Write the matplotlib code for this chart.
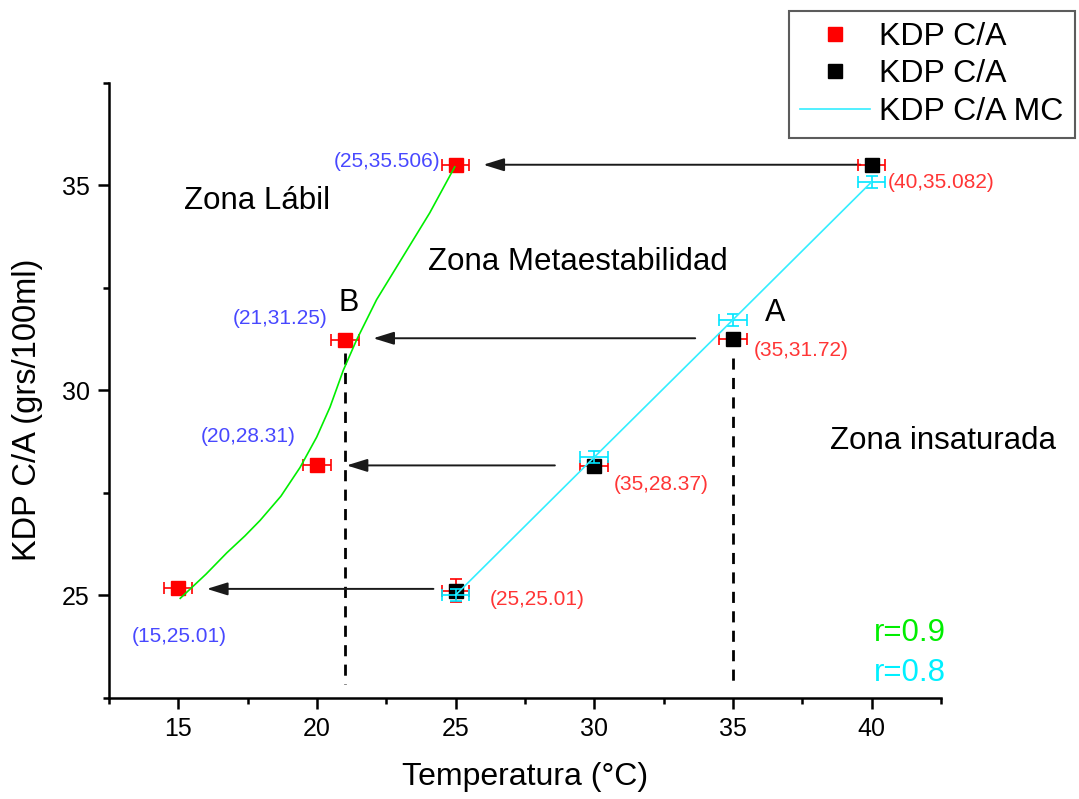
import matplotlib
matplotlib.use('Agg')
import matplotlib.pyplot as plt

plt.rcParams['font.family'] = ['Liberation Sans', 'DejaVu Sans']

# datos
temp_lab = [15, 20, 21, 25]
kdp_lab = [25.18, 28.18, 31.23, 35.49]
xerr_lab = [0.5, 0.5, 0.5, 0.5]

temp_sat = [25, 30, 35, 40]
kdp_sat = [25.12, 28.16, 31.25, 35.49]
xerr_sat = [0.5, 0.5, 0.5, 0.5]
yerr_sat = [0.27, 0.1, 0.05, 0.05]

temp_mc = [25, 30, 35, 40]
kdp_mc = [25.01, 28.37, 31.72, 35.08]
xerr_mc = [0.5, 0.5, 0.5, 0.5]
yerr_mc = [0.15, 0.15, 0.15, 0.15]

# curva verde (ajuste)
curva_x = [15.07, 16.0, 16.75, 17.4, 17.95, 18.7, 19.39, 19.99, 20.47, 20.95, 21.43, 22.15, 23.11, 24.07, 24.97]
curva_y = [24.93, 25.52, 26.04, 26.45, 26.83, 27.42, 28.12, 28.86, 29.59, 30.49, 31.23, 32.21, 33.27, 34.33, 35.45]

# flechas: (x cola, x punta, y)
flechas_y = [35.5, 31.27, 28.17, 25.16]
flechas_cola = [39.6, 33.64, 28.58, 24.2]
flechas_punta = [26.0, 22.03, 21.07, 16.03]

etiq_azul = ['(25,35.506)', '(21,31.25)', '(20,28.31)', '(15,25.01)']
etiq_rojo = ['(40,35.082)', '(35,31.72)', '(35,28.37)', '(25,25.01)']

fig = plt.figure(figsize=(10.79, 7.99), dpi=100)
ax = fig.add_axes([0.101, 0.1264, 0.771, 0.7701])

# lineas punteadas verticales
ax.plot([21, 21], [30.9, 22.85], color='black', lw=2, ls=(0, (4, 3)))
ax.plot([35, 35], [30.8, 22.85], color='black', lw=2, ls=(0, (4, 3)))

# flechas
for yy, x0, x1 in zip(flechas_y, flechas_cola, flechas_punta):
    ax.annotate('', xy=(x1, yy), xytext=(x0, yy),
                arrowprops=dict(arrowstyle='-|>,head_length=0.9,head_width=0.28',
                                color='#1a1a1a', lw=1.4, mutation_scale=14,
                                shrinkA=0, shrinkB=0))

# serie roja
ax.errorbar(temp_lab, kdp_lab, xerr=xerr_lab, fmt='none', ecolor='red',
            elinewidth=1.2, capsize=4, capthick=1.2, zorder=3)
h1, = ax.plot(temp_lab, kdp_lab, 's', color='red', ms=9.5, ls='none',
              label='KDP C/A', zorder=4)
ax.plot(curva_x, curva_y, color='#00ee00', lw=1.2, zorder=5)

# serie negra
ax.errorbar(temp_sat, kdp_sat, xerr=xerr_sat, yerr=yerr_sat, fmt='none',
            ecolor='red', elinewidth=1.2, capsize=4, capthick=1.2, zorder=3)
h2, = ax.plot(temp_sat, kdp_sat, 's', color='black', ms=9.5, ls='none',
              label='KDP C/A', zorder=4)

# serie cian
ax.errorbar(temp_mc, kdp_mc, xerr=xerr_mc, yerr=yerr_mc, fmt='none',
            ecolor='#00e5ff', elinewidth=1.2, capsize=4.3, capthick=1.2, zorder=5)
h3, = ax.plot(temp_mc, kdp_mc, color='#33eeff', lw=1.2, label='KDP C/A MC', zorder=5)

# etiquetas de puntos
azul = '#4848ff'
rojo = '#ff3535'
ax.text(24.44, 35.57, etiq_azul[0], color=azul, fontsize=15, ha='right', va='center')
ax.text(18.67, 31.76, etiq_azul[1], color=azul, fontsize=15, ha='center', va='center')
ax.text(17.53, 28.87, etiq_azul[2], color=azul, fontsize=15, ha='center', va='center')
ax.text(15.05, 24.01, etiq_azul[3], color=azul, fontsize=15, ha='center', va='center')
ax.text(40.6, 35.07, etiq_rojo[0], color=rojo, fontsize=15, ha='left', va='center')
ax.text(35.75, 30.98, etiq_rojo[1], color=rojo, fontsize=15, ha='left', va='center')
ax.text(30.71, 27.71, etiq_rojo[2], color=rojo, fontsize=15, ha='left', va='center')
ax.text(26.24, 24.9, etiq_rojo[3], color=rojo, fontsize=15, ha='left', va='center')

# zonas
ax.text(15.19, 34.62, 'Zona Lábil', fontsize=22.5, va='center')
ax.text(24.0, 33.14, 'Zona Metaestabilidad', fontsize=22.5, va='center')
ax.text(38.49, 28.77, 'Zona insaturada', fontsize=22.5, va='center')
ax.text(36.53, 31.89, 'A', fontsize=22, ha='center', va='center')
ax.text(21.16, 32.13, 'B', fontsize=22, ha='center', va='center')
ax.text(40.1, 24.08, 'r=0.9', fontsize=22.5, color='#00ee00', va='center')
ax.text(40.1, 23.1, 'r=0.8', fontsize=22.5, color='#00f0ff', va='center')

ax.set_xlim(12.5, 42.5)
ax.set_ylim(22.5, 37.5)
ax.set_xticks([15, 20, 25, 30, 35, 40])
ax.set_xticks([12.5, 17.5, 22.5, 27.5, 32.5, 37.5, 42.5], minor=True)
ax.set_yticks([25, 30, 35])
ax.set_yticks([22.5, 27.5, 32.5, 37.5], minor=True)
ax.tick_params(which='major', direction='out', length=8, width=1.8, labelsize=18, pad=6)
ax.tick_params(which='minor', direction='out', length=4.5, width=1.8)
for lado in ['top', 'right']:
    ax.spines[lado].set_visible(False)
for lado in ['left', 'bottom']:
    ax.spines[lado].set_linewidth(1.8)

ax.set_xlabel('Temperatura (°C)', fontsize=23, labelpad=15)
ax.set_ylabel('KDP C/A (grs/100ml)', fontsize=23.5)
ax.yaxis.set_label_coords(-0.079, 0.468)

leg = ax.legend(handles=[h1, h2, h3], loc='upper right',
                bbox_to_anchor=(0.996, 0.986), bbox_transform=fig.transFigure,
                fontsize=23, frameon=True, fancybox=False, borderpad=0.34,
                labelspacing=0.23, handlelength=2.2, handletextpad=0.3,
                borderaxespad=0)
leg.get_frame().set_edgecolor('#333333')
leg.get_frame().set_linewidth(1.5)

fig.savefig('out.png', dpi=100)
